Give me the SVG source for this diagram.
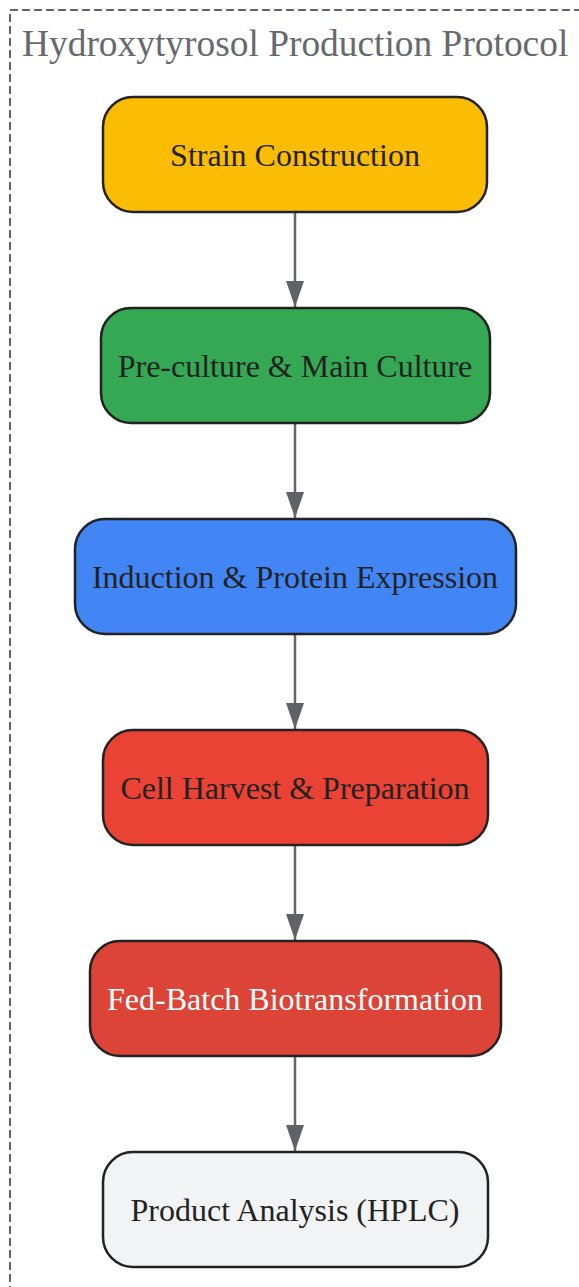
<svg xmlns="http://www.w3.org/2000/svg" width="579" height="1287" viewBox="0 0 579 1287">
<style>
.node rect{stroke:#222222;stroke-width:2.5}
.node text{font-family:"Liberation Serif","Times New Roman",serif;font-size:32px;fill:#222222;text-anchor:middle;dominant-baseline:central}
.edge{stroke:#62666b;stroke-width:2.5;fill:none}
.title{font-family:"Liberation Serif","Times New Roman",serif;font-size:37.4px;fill:#66696e}
</style>
<defs>
<marker id="arr" markerWidth="26" markerHeight="18" refX="26" refY="9" orient="auto" markerUnits="userSpaceOnUse" viewBox="0 0 26 18">
<path d="M0,0 L26,9 L0,18 z" fill="#5f6368"/>
</marker>
</defs>
<rect width="579" height="1287" fill="#ffffff"/>
<g id="cluster">
<rect x="10" y="10" width="600" height="1320" fill="none" stroke="#666666" stroke-width="2" stroke-dasharray="8,4"/>
<text class="title" x="22" y="56">Hydroxytyrosol Production Protocol</text>
</g>
<g id="edges">
<line class="edge" x1="295" y1="212" x2="295" y2="307" marker-end="url(#arr)"/>
<line class="edge" x1="295" y1="423" x2="295" y2="518" marker-end="url(#arr)"/>
<line class="edge" x1="295" y1="634" x2="295" y2="729" marker-end="url(#arr)"/>
<line class="edge" x1="295" y1="845" x2="295" y2="940" marker-end="url(#arr)"/>
<line class="edge" x1="295" y1="1056" x2="295" y2="1151" marker-end="url(#arr)"/>
</g>
<g id="n1" class="node">
<rect x="103" y="97" width="384" height="115" rx="30" fill="#FBBC04"/>
<text x="295" y="155">Strain Construction</text>
</g>
<g id="n2" class="node">
<rect x="101" y="308" width="389" height="115" rx="30" fill="#34A853"/>
<text x="295" y="366">Pre-culture &amp; Main Culture</text>
</g>
<g id="n3" class="node">
<rect x="75" y="519" width="441" height="115" rx="30" fill="#4285F4"/>
<text x="295" y="577">Induction &amp; Protein Expression</text>
</g>
<g id="n4" class="node">
<rect x="103" y="730" width="385" height="115" rx="30" fill="#EA4335"/>
<text x="295" y="788">Cell Harvest &amp; Preparation</text>
</g>
<g id="n5" class="node">
<rect x="90" y="941" width="411" height="115" rx="30" fill="#DB4437"/>
<text x="295" y="999" style="fill:#ffffff">Fed-Batch Biotransformation</text>
</g>
<g id="n6" class="node">
<rect x="103" y="1152" width="385" height="115" rx="30" fill="#F1F3F4"/>
<text x="295" y="1210">Product Analysis (HPLC)</text>
</g>
</svg>
